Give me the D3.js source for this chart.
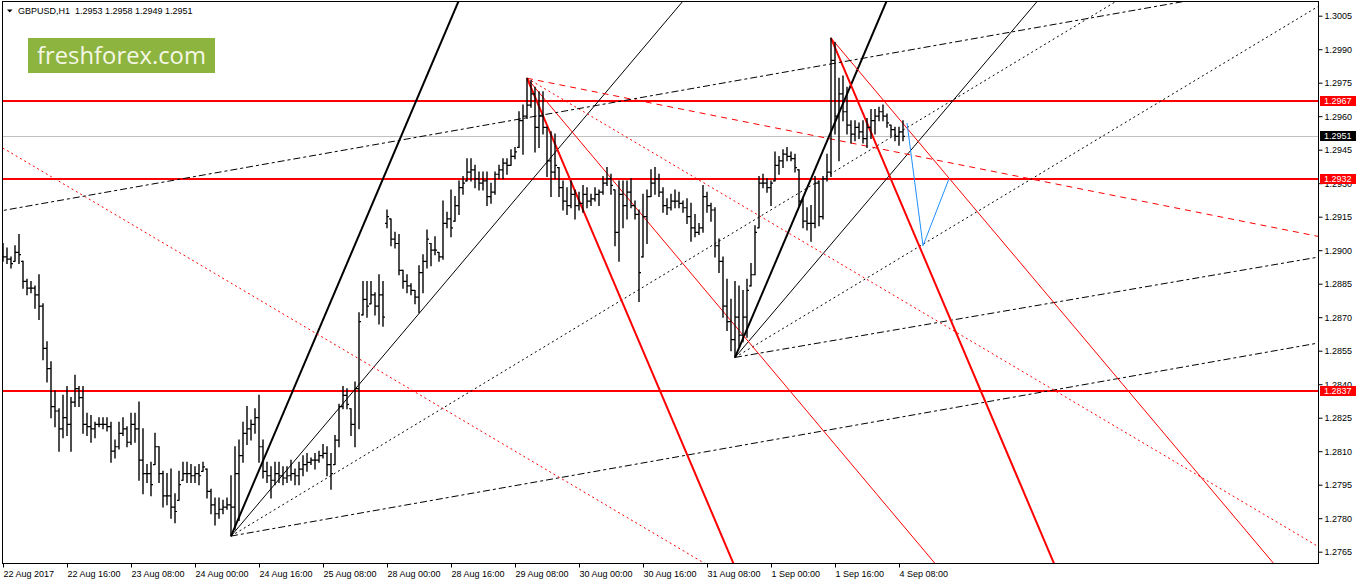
<!DOCTYPE html>
<html>
<head>
<meta charset="utf-8">
<script src="https://cdn.jsdelivr.net/npm/d3@7"></script>
<style>
  body { margin: 0; background: #fff; }
  svg { display: block; font-family: "Liberation Sans", Arial, sans-serif; }
</style>
</head>
<body>
<svg id="chart" width="1358" height="584"></svg>
<script>
// GBPUSD H1, 22 Aug 2017 00:00 .. 4 Sep 2017 09:00 (bar index 0..225)
const highs = [
  1.2903,1.2901,1.2897,1.2902,1.2907,1.2895,1.2887,1.2886,1.2884,1.2889,
  1.2876,1.2859,1.2850,1.2837,1.2829,1.2835,1.2839,1.2834,1.2844,1.2839,
  1.2839,1.2827,1.2826,1.2823,1.2825,1.2825,1.2825,1.2823,1.2815,1.2823,
  1.2825,1.2821,1.2827,1.2827,1.2832,1.2820,1.2804,1.2805,1.2818,1.2812,
  1.2801,1.2800,1.2802,1.2791,1.2801,1.2805,1.2805,1.2804,1.2803,1.2804,
  1.2805,1.2802,1.2793,1.2789,1.2789,1.2788,1.2789,1.2799,1.2812,1.2815,
  1.2823,1.2830,1.2824,1.2829,1.2835,1.2815,1.2805,1.2803,1.2805,1.2805,
  1.2803,1.2803,1.2806,1.2802,1.2805,1.2808,1.2809,1.2807,1.2809,1.2810,
  1.2813,1.2812,1.2809,1.2817,1.2831,1.2839,1.2838,1.2829,1.2841,1.2872,
  1.2886,1.2886,1.2886,1.2881,1.2889,1.2886,1.2918,1.2914,1.2908,1.2907,
  1.2891,1.2889,1.2885,1.2882,1.2893,1.2898,1.2909,1.2903,1.2906,1.2899,
  1.2922,1.2917,1.2927,1.2924,1.2931,1.2933,1.2941,1.2941,1.2938,1.2935,
  1.2935,1.2935,1.2930,1.2935,1.2938,1.2941,1.2941,1.2945,1.2946,1.2962,
  1.2965,1.2977,1.2976,1.2973,1.2971,1.2971,1.2955,1.2953,1.2952,1.2937,
  1.2931,1.2928,1.2931,1.2927,1.2926,1.2929,1.2928,1.2925,1.2928,1.2927,
  1.2933,1.2937,1.2934,1.2927,1.2931,1.2931,1.2931,1.2932,1.2922,1.2918,
  1.2925,1.2927,1.2936,1.2937,1.2934,1.2928,1.2923,1.2925,1.2927,1.2926,
  1.2922,1.2923,1.2921,1.2916,1.2912,1.2929,1.2926,1.2921,1.2919,1.2905,
  1.2897,1.2887,1.2878,1.2886,1.2884,1.2882,1.2887,1.2894,1.2911,1.2933,
  1.2934,1.2932,1.2931,1.2944,1.2942,1.2945,1.2946,1.2944,1.2943,1.2936,
  1.2923,1.2919,1.2920,1.2933,1.2931,1.2933,1.2943,1.2995,1.2993,1.2977,
  1.2978,1.2973,1.2958,1.2958,1.2957,1.2958,1.2959,1.2963,1.2963,1.2964,
  1.2965,1.2961,1.2956,1.2955,1.2955,1.2958
];
const lows = [
  1.2895,1.2894,1.2892,1.2895,1.2894,1.2883,1.2880,1.2881,1.2874,1.2869,
  1.2851,1.2841,1.2825,1.2821,1.2810,1.2816,1.2817,1.2810,1.2830,1.2830,
  1.2818,1.2817,1.2814,1.2816,1.2821,1.2820,1.2819,1.2805,1.2807,1.2811,
  1.2817,1.2812,1.2813,1.2814,1.2797,1.2791,1.2796,1.2790,1.2804,1.2796,
  1.2785,1.2786,1.2780,1.2778,1.2788,1.2797,1.2796,1.2796,1.2796,1.2795,
  1.2801,1.2789,1.2782,1.2777,1.2780,1.2782,1.2784,1.2772,1.2775,1.2779,
  1.2805,1.2813,1.2815,1.2818,1.2805,1.2798,1.2796,1.2789,1.2795,1.2796,
  1.2795,1.2796,1.2797,1.2795,1.2795,1.2799,1.2801,1.2804,1.2802,1.2805,
  1.2807,1.2799,1.2793,1.2804,1.2812,1.2829,1.2829,1.2817,1.2812,1.2820,
  1.2871,1.2870,1.2876,1.2871,1.2867,1.2866,1.2910,1.2902,1.2901,1.2889,
  1.2883,1.2881,1.2880,1.2876,1.2872,1.2881,1.2892,1.2893,1.2898,1.2895,
  1.2896,1.2910,1.2906,1.2913,1.2916,1.2925,1.2931,1.2931,1.2928,1.2927,
  1.2927,1.2920,1.2921,1.2925,1.2932,1.2932,1.2934,1.2938,1.2941,1.2946,
  1.2943,1.2959,1.2964,1.2944,1.2946,1.2952,1.2933,1.2924,1.2932,1.2924,
  1.2918,1.2916,1.2919,1.2914,1.2918,1.2917,1.2919,1.2920,1.2922,1.2920,
  1.2925,1.2929,1.2925,1.2902,1.2895,1.2910,1.2914,1.2919,1.2914,1.2877,
  1.2897,1.2903,1.2924,1.2925,1.2924,1.2917,1.2916,1.2918,1.2919,1.2919,
  1.2917,1.2912,1.2904,1.2906,1.2907,1.2908,1.2917,1.2913,1.2897,1.2890,
  1.2870,1.2864,1.2855,1.2852,1.2857,1.2859,1.2861,1.2884,1.2889,1.2910,
  1.2928,1.2926,1.2920,1.2931,1.2934,1.2937,1.2940,1.2940,1.2935,1.2920,
  1.2910,1.2909,1.2904,1.2910,1.2911,1.2914,1.2931,1.2933,1.2952,1.2940,
  1.2958,1.2952,1.2948,1.2949,1.2950,1.2948,1.2946,1.2950,1.2952,1.2958,
  1.2958,1.2955,1.2951,1.2949,1.2947,1.2949
];
const opens = [
  1.2900,1.2897,1.2896,1.2895,1.2899,1.2895,1.2886,1.2883,1.2883,1.2880,
  1.2875,1.2856,1.2847,1.2830,1.2828,1.2820,1.2825,1.2822,1.2832,1.2838,
  1.2834,1.2822,1.2821,1.2820,1.2822,1.2822,1.2822,1.2821,1.2810,1.2812,
  1.2818,1.2820,1.2814,1.2822,1.2820,1.2806,1.2800,1.2800,1.2804,1.2812,
  1.2800,1.2790,1.2790,1.2785,1.2788,1.2797,1.2800,1.2800,1.2799,1.2800,
  1.2801,1.2802,1.2792,1.2786,1.2782,1.2784,1.2785,1.2786,1.2785,1.2800,
  1.2808,1.2818,1.2820,1.2822,1.2825,1.2812,1.2801,1.2799,1.2797,1.2800,
  1.2799,1.2798,1.2799,1.2800,1.2799,1.2802,1.2804,1.2805,1.2806,1.2806,
  1.2808,1.2809,1.2804,1.2804,1.2815,1.2830,1.2835,1.2829,1.2822,1.2838,
  1.2871,1.2878,1.2876,1.2880,1.2875,1.2880,1.2912,1.2914,1.2905,1.2903,
  1.2891,1.2886,1.2884,1.2882,1.2879,1.2890,1.2895,1.2903,1.2900,1.2899,
  1.2897,1.2912,1.2914,1.2913,1.2920,1.2928,1.2931,1.2935,1.2936,1.2932,
  1.2930,1.2931,1.2924,1.2926,1.2934,1.2936,1.2939,1.2938,1.2942,1.2946,
  1.2958,1.2960,1.2965,1.2970,1.2955,1.2960,1.2955,1.2940,1.2935,1.2937,
  1.2928,1.2922,1.2920,1.2925,1.2920,1.2921,1.2925,1.2922,1.2923,1.2925,
  1.2926,1.2930,1.2932,1.2927,1.2908,1.2925,1.2920,1.2926,1.2920,1.2916,
  1.2897,1.2915,1.2924,1.2930,1.2932,1.2926,1.2920,1.2919,1.2922,1.2922,
  1.2921,1.2919,1.2915,1.2910,1.2908,1.2910,1.2924,1.2920,1.2918,1.2902,
  1.2895,1.2875,1.2868,1.2860,1.2870,1.2862,1.2870,1.2884,1.2889,1.2910,
  1.2930,1.2930,1.2928,1.2931,1.2938,1.2940,1.2943,1.2942,1.2941,1.2936,
  1.2922,1.2913,1.2912,1.2912,1.2930,1.2915,1.2932,1.2935,1.2985,1.2960,
  1.2970,1.2962,1.2956,1.2952,1.2955,1.2953,1.2950,1.2955,1.2958,1.2960,
  1.2962,1.2960,1.2956,1.2954,1.2951,1.2953
];
const closes = [
  1.2897,1.2896,1.2894,1.2899,1.2898,1.2886,1.2883,1.2883,1.2880,1.2875,
  1.2856,1.2847,1.2830,1.2828,1.2820,1.2825,1.2822,1.2832,1.2838,1.2834,
  1.2822,1.2821,1.2820,1.2822,1.2822,1.2822,1.2821,1.2810,1.2812,1.2818,
  1.2820,1.2814,1.2822,1.2820,1.2806,1.2800,1.2800,1.2795,1.2812,1.2800,
  1.2790,1.2790,1.2785,1.2783,1.2795,1.2800,1.2800,1.2799,1.2800,1.2799,
  1.2803,1.2792,1.2786,1.2782,1.2784,1.2785,1.2786,1.2785,1.2800,1.2808,
  1.2818,1.2820,1.2822,1.2825,1.2812,1.2801,1.2799,1.2797,1.2800,1.2799,
  1.2798,1.2799,1.2800,1.2799,1.2802,1.2804,1.2805,1.2806,1.2806,1.2808,
  1.2809,1.2804,1.2800,1.2815,1.2830,1.2835,1.2831,1.2822,1.2838,1.2868,
  1.2878,1.2875,1.2880,1.2875,1.2880,1.2870,1.2915,1.2905,1.2903,1.2891,
  1.2886,1.2884,1.2882,1.2879,1.2890,1.2895,1.2905,1.2900,1.2900,1.2897,
  1.2912,1.2914,1.2910,1.2920,1.2928,1.2930,1.2935,1.2936,1.2932,1.2930,
  1.2931,1.2924,1.2926,1.2934,1.2936,1.2939,1.2938,1.2942,1.2944,1.2958,
  1.2960,1.2965,1.2970,1.2955,1.2960,1.2955,1.2940,1.2935,1.2938,1.2928,
  1.2922,1.2920,1.2925,1.2920,1.2921,1.2925,1.2922,1.2923,1.2925,1.2926,
  1.2930,1.2932,1.2929,1.2908,1.2925,1.2920,1.2926,1.2920,1.2916,1.2890,
  1.2915,1.2924,1.2930,1.2932,1.2926,1.2920,1.2919,1.2922,1.2922,1.2921,
  1.2919,1.2915,1.2910,1.2908,1.2910,1.2924,1.2920,1.2918,1.2902,1.2895,
  1.2875,1.2868,1.2860,1.2870,1.2862,1.2870,1.2882,1.2889,1.2908,1.2930,
  1.2930,1.2928,1.2930,1.2938,1.2940,1.2943,1.2942,1.2941,1.2937,1.2922,
  1.2913,1.2912,1.2912,1.2930,1.2915,1.2932,1.2935,1.2985,1.2960,1.2970,
  1.2962,1.2956,1.2952,1.2955,1.2953,1.2950,1.2955,1.2958,1.2960,1.2962,
  1.2960,1.2957,1.2954,1.2951,1.2953,1.2951
];

const timeTicks = [0, 16, 32, 48, 64, 80, 96, 112, 128, 144, 160, 176, 192, 208, 224];
const timeLabels = ["22 Aug 2017", "22 Aug 16:00", "23 Aug 08:00", "24 Aug 00:00", "24 Aug 16:00",
  "25 Aug 08:00", "28 Aug 00:00", "28 Aug 16:00", "29 Aug 08:00", "30 Aug 00:00",
  "30 Aug 16:00", "31 Aug 08:00", "1 Sep 00:00", "1 Sep 16:00", "4 Sep 08:00"];
const priceTicks = [1.2765, 1.2780, 1.2795, 1.2810, 1.2825, 1.2840, 1.2855, 1.2870, 1.2885,
  1.2900, 1.2915, 1.2930, 1.2945, 1.2960, 1.2975, 1.2990, 1.3005];

const levels = [1.2967, 1.2932, 1.2837];
const lastPrice = 1.2951;

// Gann fans: origin [bar, price] and ray rates in pips per bar
const fanOrigins = [[57, 1.2772], [183, 1.2852], [131, 1.2977], [207, 1.2995]];
const fanRates = [
  [4.21, 2.12, 1.082, 0.318],
  [4.21, 2.11, 1.078, 0.308],
  [-4.21, -2.13, -1.06, -0.358],
  [-4.22, -2.126]
];
// plain trend lines: anchor [bar, price] and rate in pips per bar
const trendAnchors = [[45, 1.2898], [89, 1.2946]];
const trendRates = [-1.06, 0.317];
// forecast zigzag
const forecast = [[226, 1.2957], [230, 1.2902], [236.5, 1.2932]];

const PIP = 0.0001;
const plot = {left: 2, top: 2, right: 1318, bottom: 563};

const svg = d3.select('#chart');

const x = d3.scaleLinear().domain([0, 225]).range([3, 903]);
const y = d3.scaleLinear().domain([1.2765, 1.3005]).range([551.7, 15.7]);

svg.append('rect').attr('width', 1358).attr('height', 584).attr('fill', '#fff');

svg.append('clipPath').attr('id', 'plotclip')
  .append('rect')
    .attr('x', plot.left).attr('y', plot.top)
    .attr('width', plot.right - plot.left).attr('height', plot.bottom - plot.top);

const g = svg.append('g').attr('clip-path', 'url(#plotclip)');

// logo
g.append('rect')
  .attr('x', 28).attr('y', 38).attr('width', 187).attr('height', 35)
  .attr('fill', '#8db43f');
g.append('text')
  .attr('x', 37).attr('y', 63.5)
  .attr('textLength', 169).attr('lengthAdjust', 'spacingAndGlyphs')
  .style('font-family', '"Open Sans", "Noto Sans", sans-serif')
  .style('font-size', '23px')
  .attr('fill', '#f5f7e6')
  .text('freshforex.com');

// last price line
g.append('line')
  .attr('x1', plot.left).attr('x2', plot.right)
  .attr('y1', Math.round(y(lastPrice)) + 0.5).attr('y2', Math.round(y(lastPrice)) + 0.5)
  .attr('stroke', '#c0c0c0').attr('stroke-width', 1);

// horizontal levels
g.selectAll('.level')
  .data(levels)
  .enter()
  .append('line')
    .attr('class', 'level')
    .attr('x1', plot.left).attr('x2', plot.right)
    .attr('y1', d => Math.round(y(d))).attr('y2', d => Math.round(y(d)))
    .attr('stroke', '#ff0000').attr('stroke-width', 2);

function dashFor(kind, color) {
  if (kind === 2) return '2,3';
  if (kind === 3) return color === 'red' ? '6,5' : '7,3,3,3';
  return null;
}

// fans (rays to the right)
fanOrigins.forEach(function (o, f) {
  fanRates[f].forEach(function (rate, k) {
    const color = rate > 0 ? 'black' : 'red';
    const far = 400;
    g.append('line')
      .attr('x1', x(o[0])).attr('y1', y(o[1]))
      .attr('x2', x(o[0] + far)).attr('y2', y(o[1] + rate * PIP * far))
      .attr('stroke', color === 'red' ? '#ff0000' : '#000')
      .attr('stroke-width', k === 0 ? 2 : 1)
      .attr('stroke-dasharray', dashFor(k, color));
  });
});

// trend lines across the whole chart
trendAnchors.forEach(function (a, t) {
  const rate = trendRates[t];
  const color = rate > 0 ? 'black' : 'red';
  g.append('line')
    .attr('x1', x(a[0] - 300)).attr('y1', y(a[1] - rate * PIP * 300))
    .attr('x2', x(a[0] + 400)).attr('y2', y(a[1] + rate * PIP * 400))
    .attr('stroke', color === 'red' ? '#ff0000' : '#000')
    .attr('stroke-width', 1)
    .attr('stroke-dasharray', color === 'red' ? '2,3' : '7,3,3,3');
});

// forecast
g.append('path')
  .datum(forecast)
  .attr('d', d3.line().x(d => x(d[0])).y(d => y(d[1])))
  .attr('fill', 'none')
  .attr('stroke', '#1e90ff')
  .attr('stroke-width', 1);

// OHLC bars
const bars = d3.range(highs.length);
const barG = g.append('g').attr('stroke', '#000').attr('stroke-width', 1.4);
barG.selectAll('.hl')
  .data(bars)
  .enter()
  .append('line')
    .attr('x1', i => x(i)).attr('x2', i => x(i))
    .attr('y1', i => y(highs[i]) - 0.5).attr('y2', i => y(lows[i]) + 0.5);
barG.selectAll('.op')
  .data(bars)
  .enter()
  .append('line')
    .attr('stroke-width', 1.2)
    .attr('x1', i => x(i) - 2).attr('x2', i => x(i))
    .attr('y1', i => y(opens[i])).attr('y2', i => y(opens[i]));
barG.selectAll('.cl')
  .data(bars)
  .enter()
  .append('line')
    .attr('stroke-width', 1.2)
    .attr('x1', i => x(i)).attr('x2', i => x(i) + 2)
    .attr('y1', i => y(closes[i])).attr('y2', i => y(closes[i]));

// frame
svg.append('rect')
  .attr('x', plot.left + 0.5).attr('y', plot.top - 0.5)
  .attr('width', plot.right - plot.left).attr('height', plot.bottom - plot.top + 1)
  .attr('fill', 'none').attr('stroke', '#000').attr('stroke-width', 1)
  .attr('shape-rendering', 'crispEdges');

// price axis
const yAxis = svg.append('g')
  .attr('transform', 'translate(' + (plot.right + 0.5) + ',0)')
  .call(d3.axisRight(y).tickValues(priceTicks).tickSize(4).tickFormat(d3.format('.4f')));
yAxis.select('.domain').remove();
yAxis.selectAll('text').style('font-size', '9px').attr('fill', '#000').attr('x', 6);
yAxis.selectAll('line').attr('stroke', '#000');

// time axis
const xAxis = svg.append('g')
  .attr('transform', 'translate(0,' + (plot.bottom + 0.5) + ')')
  .call(d3.axisBottom(x).tickValues(timeTicks).tickSize(4).tickFormat((d, i) => timeLabels[i]));
xAxis.select('.domain').remove();
xAxis.selectAll('text')
  .style('font-size', '9px').attr('fill', '#000')
  .attr('text-anchor', 'start').attr('dx', 0);
xAxis.selectAll('line').attr('stroke', '#000');

// price badges on the axis
function badge(p, fill) {
  const cy = Math.round(y(p));
  svg.append('rect')
    .attr('x', plot.right + 2).attr('y', cy - 5).attr('width', 36).attr('height', 10)
    .attr('fill', fill);
  svg.append('text')
    .attr('x', plot.right + 6).attr('y', cy).attr('dy', '0.35em')
    .style('font-size', '9px').attr('fill', '#fff')
    .text(d3.format('.4f')(p));
}
levels.forEach(p => badge(p, '#ff0000'));
badge(lastPrice, '#000');

// title
const last = highs.length - 1;
svg.append('path').attr('d', 'M7,9.5 L12.5,9.5 L9.75,12.5 Z').attr('fill', '#000');
svg.append('text')
  .attr('x', 18).attr('y', 13.5)
  .style('font-size', '9px').style('white-space', 'pre')
  .attr('fill', '#000')
  .text('GBPUSD,H1  ' + [opens[last], highs[last], lows[last], closes[last]].map(d3.format('.4f')).join(' '));
</script>
</body>
</html>
